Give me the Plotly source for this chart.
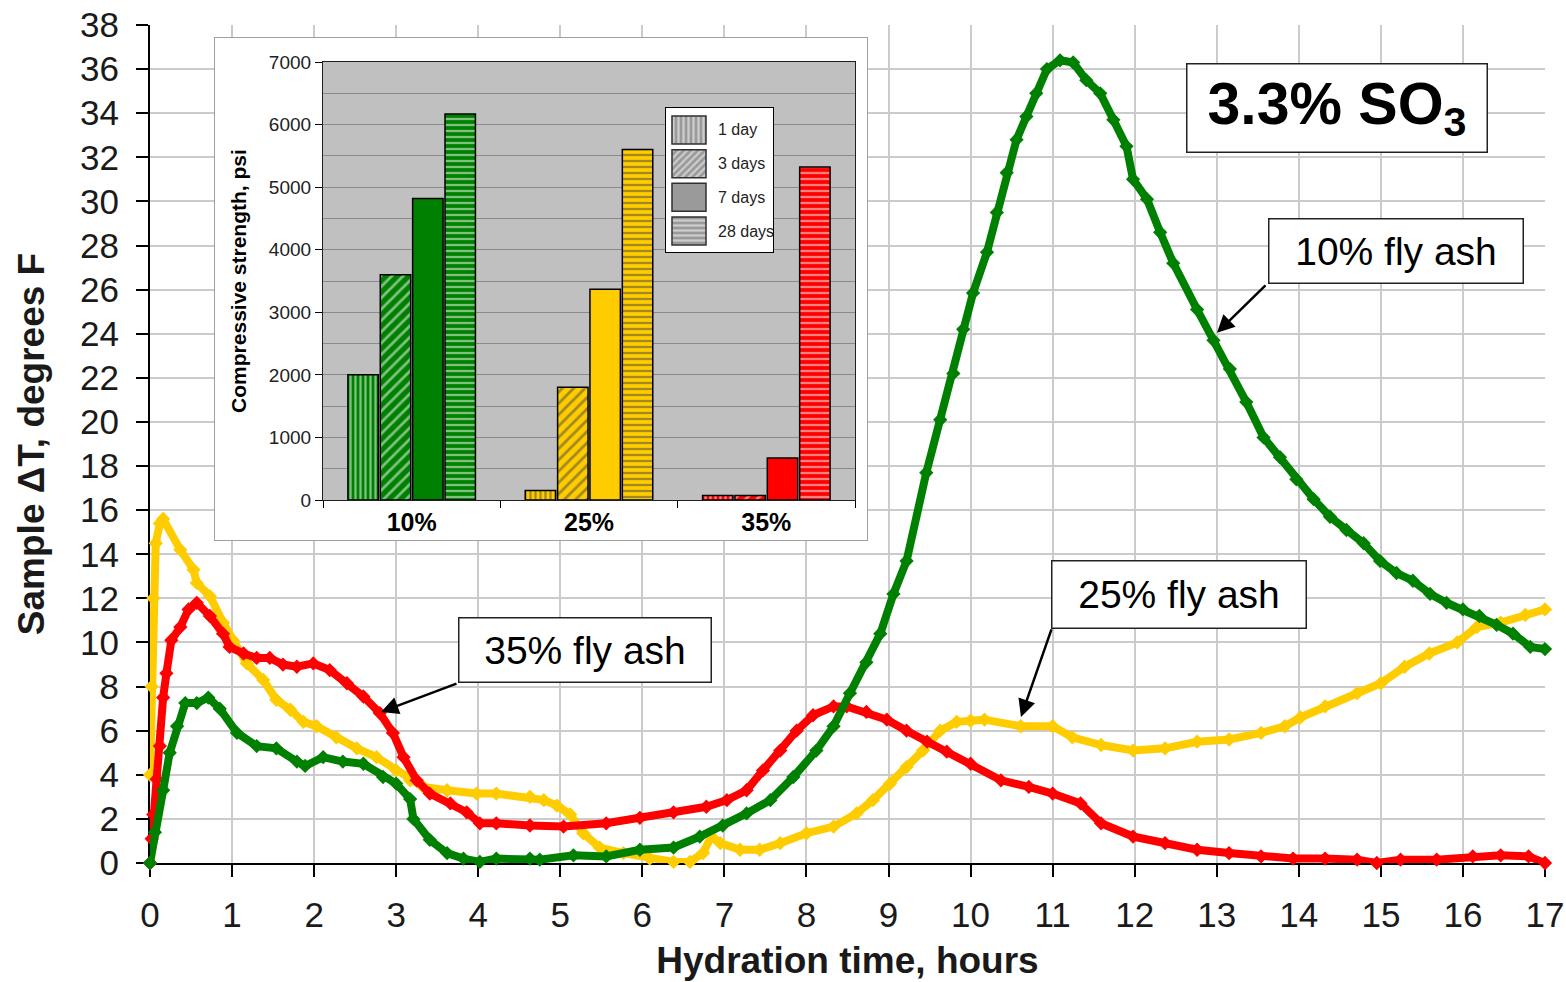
import plotly.graph_objects as go

FONT = "Liberation Sans, Arial, sans-serif"

# ---- Sample temperature rise vs hydration time (3.3% SO3 cement) ----
hours_10 = [0.00, 0.06, 0.16, 0.24, 0.33, 0.43, 0.57, 0.71, 0.85, 1.06, 1.30, 1.54, 1.79, 1.89,
            2.11, 2.35, 2.60, 2.84, 3.00, 3.17, 3.21, 3.41, 3.62, 3.82, 4.02, 4.22, 4.63, 4.75,
            5.16, 5.56, 5.97, 6.38, 6.70, 6.98, 7.27, 7.56, 7.84, 8.12, 8.33, 8.53, 8.73, 8.90,
            9.06, 9.22, 9.46, 9.63, 9.79, 9.91, 10.03, 10.20, 10.32, 10.44, 10.56, 10.68, 10.80,
            10.93, 11.09, 11.25, 11.41, 11.58, 11.74, 11.90, 11.98, 12.15, 12.31, 12.47, 12.76,
            12.96, 13.16, 13.36, 13.57, 13.77, 13.97, 14.18, 14.38, 14.58, 14.79, 14.99, 15.19,
            15.39, 15.60, 15.80, 16.00, 16.20, 16.41, 16.61, 16.82, 17.00]
dT_10 = [0.0, 1.4, 3.3, 5.0, 6.2, 7.25, 7.25, 7.5, 7.0, 5.9, 5.3, 5.2, 4.6, 4.4,
         4.8, 4.6, 4.5, 3.9, 3.6, 2.9, 2.0, 1.05, 0.45, 0.2, 0.05, 0.2, 0.2, 0.15,
         0.35, 0.3, 0.6, 0.7, 1.2, 1.7, 2.25, 2.85, 3.9, 5.1, 6.2, 7.7, 9.1, 10.4,
         12.2, 13.7, 17.7, 20.1, 22.2, 24.2, 25.85, 27.7, 29.5, 31.3, 32.8, 33.85, 34.9,
         36.0, 36.4, 36.3, 35.5, 34.9, 33.7, 32.5, 31.0, 30.1, 28.6, 27.2, 25.1,
         23.7, 22.4, 20.9, 19.3, 18.4, 17.4, 16.5, 15.7, 15.1, 14.5, 13.7, 13.15,
         12.8, 12.2, 11.8, 11.5, 11.2, 10.8, 10.4, 9.8, 9.7]

hours_25 = [0.00, 0.02, 0.04, 0.07, 0.12, 0.16, 0.37, 0.53, 0.57, 0.73, 0.89, 1.01, 1.18, 1.38,
            1.54, 1.71, 1.87, 2.03, 2.27, 2.52, 2.76, 3.00, 3.17, 3.33, 3.62, 3.98, 4.22, 4.63,
            4.80, 4.96, 5.12, 5.28, 5.48, 5.77, 6.09, 6.38, 6.58, 6.74, 6.84, 6.95, 7.19, 7.43,
            7.68, 8.00, 8.33, 8.61, 8.81, 9.02, 9.22, 9.42, 9.63, 9.83, 10.00, 10.17, 10.61,
            11.00, 11.24, 11.59, 11.98, 12.37, 12.76, 13.15, 13.54, 13.83, 14.02, 14.32, 14.71,
            15.00, 15.29, 15.59, 15.93, 16.17, 16.46, 16.76, 17.00]
dT_25 = [4.0, 8.0, 12.0, 14.5, 15.4, 15.6, 14.2, 13.3, 12.7, 12.1, 10.9, 10.1, 9.05, 8.3,
         7.4, 6.95, 6.4, 6.2, 5.7, 5.2, 4.8, 4.2, 3.75, 3.45, 3.3, 3.15, 3.15, 3.0,
         2.85, 2.6, 2.2, 1.35, 0.7, 0.45, 0.2, 0.05, 0.05, 0.45, 1.2, 0.9, 0.6, 0.6,
         0.9, 1.35, 1.65, 2.25, 2.85, 3.6, 4.35, 5.1, 6.0, 6.4, 6.45, 6.5, 6.2,
         6.2, 5.7, 5.35, 5.1, 5.2, 5.5, 5.6, 5.9, 6.2, 6.6, 7.1, 7.7,
         8.15, 8.9, 9.5, 10.0, 10.7, 10.9, 11.25, 11.5]

hours_35 = [0.00, 0.02, 0.04, 0.08, 0.12, 0.16, 0.20, 0.26, 0.37, 0.47, 0.57, 0.73, 0.89, 0.97,
            1.14, 1.30, 1.46, 1.62, 1.79, 1.99, 2.19, 2.40, 2.60, 2.80, 2.96, 3.09, 3.25, 3.41,
            3.66, 3.86, 4.02, 4.22, 4.63, 5.04, 5.56, 5.97, 6.38, 6.78, 7.03, 7.27, 7.47, 7.68,
            7.88, 8.08, 8.33, 8.49, 8.73, 8.98, 9.22, 9.47, 9.71, 10.00, 10.37, 10.71, 11.00,
            11.34, 11.59, 11.98, 12.37, 12.76, 13.15, 13.54, 13.93, 14.32, 14.71, 14.95, 15.24,
            15.68, 16.12, 16.46, 16.80, 17.00]
dT_35 = [0.0, 1.1, 2.2, 3.8, 5.3, 7.5, 8.6, 10.1, 10.7, 11.5, 11.8, 11.2, 10.4, 9.8,
         9.5, 9.3, 9.3, 9.0, 8.9, 9.05, 8.75, 8.15, 7.55, 6.8, 5.9, 4.8, 3.75, 3.15,
         2.7, 2.3, 1.8, 1.8, 1.7, 1.65, 1.8, 2.05, 2.3, 2.55, 2.85, 3.3, 4.2, 5.1,
         6.0, 6.7, 7.1, 7.1, 6.85, 6.5, 6.0, 5.5, 5.05, 4.5, 3.75, 3.45, 3.15,
         2.7, 1.8, 1.2, 0.9, 0.6, 0.45, 0.3, 0.2, 0.2, 0.15, 0.0, 0.15,
         0.15, 0.3, 0.35, 0.3, 0.0]

# ---- Compressive strength inset ----
mixes = ["10%", "25%", "35%"]
ages = ["1 day", "3 days", "7 days", "28 days"]
strength = {
    "1 day": [2000, 150, 70],
    "3 days": [3600, 1800, 70],
    "7 days": [4820, 3370, 670],
    "28 days": [6170, 5600, 5320],
}

mix_colors = ["#008000", "#FFCC00", "#FF0000"]
age_patterns = {"1 day": ("|", 5, 0.45), "3 days": ("/", 8, 0.35),
                "7 days": ("", 8, 0.3), "28 days": ("-", 6, 0.38)}

fig = go.Figure()

# temperature curves
for hrs, vals, col, name in [(hours_25, dT_25, mix_colors[1], "25% fly ash"),
                             (hours_35, dT_35, mix_colors[2], "35% fly ash"),
                             (hours_10, dT_10, mix_colors[0], "10% fly ash")]:
    fig.add_trace(go.Scatter(
        x=hrs, y=vals, mode="lines+markers", name=name,
        line=dict(color=col, width=8),
        marker=dict(symbol="diamond", size=11, color=col),
        cliponaxis=False, showlegend=False, xaxis="x", yaxis="y"))

# white frame behind the inset (its own subplot so it sits above the main grid)
fig.add_trace(go.Scatter(x=[], y=[], xaxis="x2", yaxis="y2", showlegend=False))

# inset bars
for age in ages:
    shape, size, solid = age_patterns[age]
    fig.add_trace(go.Bar(
        x=mixes, y=strength[age], name=age, xaxis="x3", yaxis="y3", showlegend=False,
        marker=dict(color=mix_colors, line=dict(color="black", width=1.5),
                    pattern=dict(shape=shape, fgcolor="white", fillmode="overlay",
                                 size=size, solidity=solid))))

# inset key
fig.add_trace(go.Bar(
    y=ages, x=[1] * len(ages), orientation="h", width=0.83,
    xaxis="x4", yaxis="y4", showlegend=False,
    marker=dict(color="#9a9a9a", line=dict(color="#303030", width=1.5),
                pattern=dict(shape=[age_patterns[a][0] for a in ages], fgcolor="white",
                             fillmode="overlay", size=5, solidity=0.45))))

PLOT_W, PLOT_H = 1395, 838
L, T = 150, 25


def dom_x(p0, p1):
    return [(p0 - L) / PLOT_W, (p1 - L) / PLOT_W]


def dom_y(p0, p1):
    return [(T + PLOT_H - p1) / PLOT_H, (T + PLOT_H - p0) / PLOT_H]


tick_font = dict(family=FONT, size=35, color="#1a1a1a")
title_font = dict(family=FONT, size=37, color="#1a1a1a")

shapes = []
# grey plot area of the inset
shapes.append(dict(type="rect", xref="x3", yref="y3", x0=-0.5, x1=2.5, y0=0, y1=7000,
                   fillcolor="#c0c0c0", line=dict(width=0), layer="below"))

annotations = []
# legend labels of the inset key
for a in ages:
    annotations.append(dict(xref="x4", yref="y4", x=1.29, y=a, text=a, showarrow=False,
                            xanchor="left", yanchor="middle",
                            font=dict(family=FONT, size=16, color="#222")))

# labelled boxes
box_style = dict(showarrow=False, bgcolor="white", bordercolor="#222", borderwidth=1.5,
                 borderpad=0, xref="x", yref="y", xanchor="center", yanchor="middle")
annotations.append(dict(x=14.465, y=34.24, text="<b>3.3% SO<sub>3</sub></b>", width=299, height=87,
                        font=dict(family=FONT, size=59, color="black"), **box_style))
annotations.append(dict(x=15.18, y=27.76, text="10% fly ash", width=253, height=63,
                        font=dict(family=FONT, size=39, color="black"), **box_style))
annotations.append(dict(x=12.54, y=12.18, text="25% fly ash", width=253, height=66,
                        font=dict(family=FONT, size=39, color="black"), **box_style))
annotations.append(dict(x=5.301, y=9.66, text="35% fly ash", width=251, height=63,
                        font=dict(family=FONT, size=39, color="black"), **box_style))

# pointer arrows from the boxes to the curves
for (hx, hy, tx, ty) in [(13.003, 24.04, 13.612, 26.26),
                         (10.614, 6.62, 10.992, 10.66),
                         (2.815, 6.848, 3.753, 8.163)]:
    annotations.append(dict(x=hx, y=hy, ax=tx, ay=ty, xref="x", yref="y", axref="x", ayref="y",
                            text="", showarrow=True, arrowhead=2, arrowsize=1.4,
                            arrowwidth=2.5, arrowcolor="black"))

fig.update_layout(
    width=1566, height=982,
    margin=dict(l=L, r=1566 - L - PLOT_W, t=T, b=982 - T - PLOT_H, autoexpand=False),
    paper_bgcolor="white", plot_bgcolor="white",
    barmode="group", bargap=0.27, bargroupgap=0.06,
    font=dict(family=FONT),
    shapes=shapes, annotations=annotations,
    xaxis=dict(range=[0, 17], dtick=1, tick0=0, showgrid=True, gridcolor="#cbcbcb", gridwidth=2,
               showline=True, linecolor="black", linewidth=2, ticks="outside", ticklen=12,
               tickwidth=1.5, tickcolor="black", tickfont=tick_font, zeroline=False,
               layer="below traces", automargin=False, ticklabelstandoff=8,
               title=dict(text="<b>Hydration time, hours</b>", font=title_font, standoff=14)),
    yaxis=dict(range=[0, 38], dtick=2, tick0=0, showgrid=True, gridcolor="#cbcbcb", gridwidth=2,
               showline=True, linecolor="black", linewidth=2, ticks="outside", ticklen=12,
               tickwidth=1.5, tickcolor="black", tickfont=tick_font, zeroline=False,
               layer="below traces", automargin=False, ticklabelstandoff=10,
               title=dict(text="<b>Sample \u0394T, degrees F</b>", font=title_font, standoff=24)),
    xaxis2=dict(domain=dom_x(215, 867), anchor="y2", range=[0, 1], showgrid=False,
                zeroline=False, showticklabels=False, showline=True, mirror=True,
                linecolor="#a0a0a0", linewidth=1, automargin=False),
    yaxis2=dict(domain=dom_y(38, 540), anchor="x2", range=[0, 1], showgrid=False,
                zeroline=False, showticklabels=False, showline=True, mirror=True,
                linecolor="#a0a0a0", linewidth=1, automargin=False),
    xaxis3=dict(domain=dom_x(323, 855), anchor="y3", type="category",
                categoryorder="array", categoryarray=mixes, range=[-0.5, 2.5],
                showgrid=False, zeroline=False, showline=True, mirror=True,
                linecolor="#202020", linewidth=1.2, ticks="outside", tickson="boundaries",
                ticklen=7, tickcolor="black", automargin=False,
                tickfont=dict(family=FONT, size=25, color="black"),
                tickprefix="<b>", ticksuffix="</b>"),
    yaxis3=dict(domain=dom_y(62, 500), anchor="x3", range=[0, 7000], dtick=1000,
                showgrid=True, gridcolor="#8a8a8a", gridwidth=1,
                minor=dict(dtick=500, showgrid=True, gridcolor="#8a8a8a", gridwidth=1),
                zeroline=False, showline=True, mirror=True, linecolor="#202020", linewidth=1.2,
                ticks="outside", ticklen=7, tickcolor="black", automargin=False,
                tickfont=dict(family=FONT, size=19, color="#222"),
                title=dict(text="<b>Compressive strength, psi</b>", standoff=16,
                           font=dict(family=FONT, size=21, color="black"))),
    xaxis4=dict(domain=dom_x(666, 773), anchor="y4", range=[-0.176, 2.97], showgrid=False,
                zeroline=False, showticklabels=False, showline=True, mirror=True,
                linecolor="black", linewidth=1.2, automargin=False),
    yaxis4=dict(domain=dom_y(108, 252), anchor="x4", type="category",
                categoryorder="array", categoryarray=ages, range=[3.62, -0.65],
                showgrid=False, zeroline=False, showticklabels=False, showline=True,
                mirror=True, linecolor="black", linewidth=1.2, automargin=False),
)

fig.write_html("out.html")
